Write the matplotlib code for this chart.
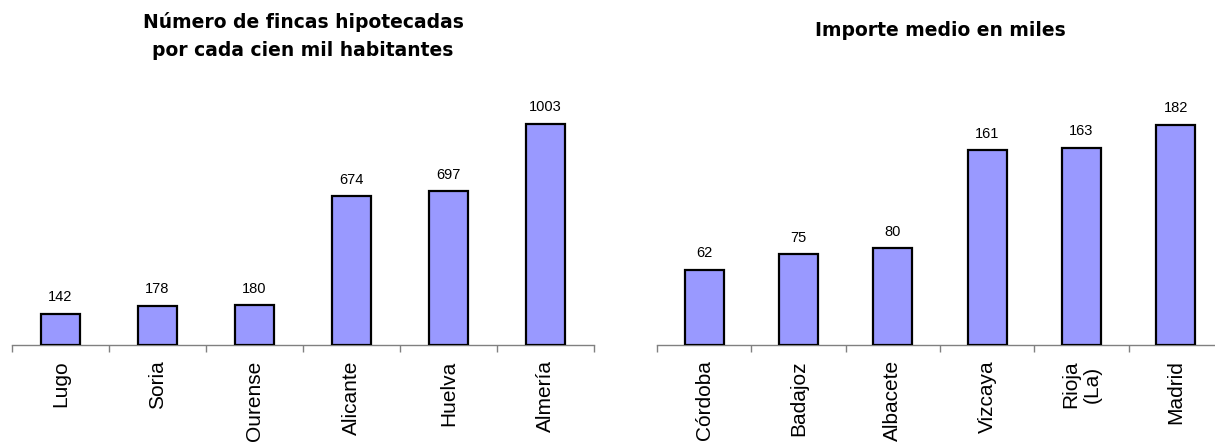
import matplotlib.pyplot as plt
import numpy as np

plt.rcParams['font.family'] = ['Liberation Sans', 'DejaVu Sans']

# datos
prov_fincas = ['Lugo', 'Soria', 'Ourense', 'Alicante', 'Huelva', 'Almería']
fincas = [142, 178, 180, 674, 697, 1003]

prov_importe = ['Córdoba', 'Badajoz', 'Albacete', 'Vizcaya', 'Rioja\n(La)', 'Madrid']
importe = [62, 75, 80, 161, 163, 182]

titulo1 = 'Número de fincas hipotecadas\npor cada cien mil habitantes'
titulo2 = 'Importe medio en miles'

W, H = 1215, 443
fig = plt.figure(figsize=(W / 100, H / 100), dpi=100)

color_barra = '#9999FF'
gris = '#808080'


def panel(rect, cats, vals, ymax, titulo, title_y):
    ax = fig.add_axes(rect)
    x = np.arange(len(cats))
    barras = ax.bar(x, vals, width=0.41, color=color_barra,
                    edgecolor='black', linewidth=1.6, zorder=3)
    for b, v in zip(barras, vals):
        ax.annotate(str(v), (b.get_x() + b.get_width() / 2, v),
                    xytext=(0, 7), textcoords='offset points',
                    ha='center', va='bottom', fontsize=10.5)
    ax.set_xlim(-0.5, len(cats) - 0.5)
    ax.set_ylim(0, ymax)
    ax.set_xticks(x)
    ax.set_xticklabels(cats, rotation=90, fontsize=15, ha='center',
                       va='top', multialignment='center')
    ax.tick_params(axis='x', which='major', length=0, pad=11)
    ax.set_xticks(np.arange(len(cats) + 1) - 0.5, minor=True)
    ax.tick_params(axis='x', which='minor', length=5, color=gris,
                   direction='out', width=1)
    ax.set_yticks([])
    for s in ['top', 'right', 'left']:
        ax.spines[s].set_visible(False)
    ax.spines['bottom'].set_color(gris)
    ax.spines['bottom'].set_linewidth(1)
    cx = rect[0] + rect[2] / 2
    fig.text(cx, title_y, titulo, ha='center', va='center',
             fontsize=13.5, fontweight='bold', linespacing=1.55,
             family='DejaVu Sans')
    return ax


base = (H - 345) / H
alto = 285 / H
panel([12 / W, base, 582 / W, alto], prov_fincas, fincas,
      285 / 221 * 1003, titulo1, 1 - 36 / H)
panel([657 / W, base, 566 / W, alto], prov_importe, importe,
      285 / 220 * 182, titulo2, 1 - 31 / H)

fig.savefig('out.png', dpi=100)
